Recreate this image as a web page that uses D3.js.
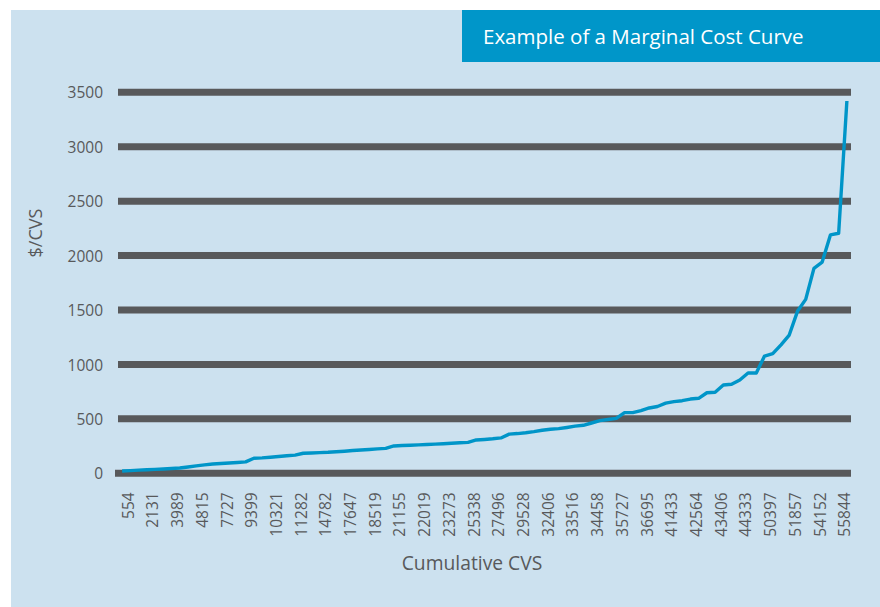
<!DOCTYPE html>
<html>
<head>
<style>
    body { margin: 0; background: #fff; }
    .label { font-family: "Open Sans", sans-serif; fill: #58595b; }
    .curve { fill: none; stroke: #0095c8; stroke-width: 3.4; stroke-linejoin: round; }
    .grid { stroke: #58595b; stroke-width: 7; }
</style>
</head>

<body>
    <svg id="container" width="880" height="607">
        <rect x="11" y="10" width="869" height="597" fill="#cce1ef"></rect>
        <g id="body"></g>
    </svg>
</body>
<script src="https://d3js.org/d3.v7.min.js"></script>

<script>
    // x tick labels, one every third point
    const tickLabels = ["554", "2131", "3989", "4815", "7727", "9399", "10321", "11282", "14782", "17647",
        "18519", "21155", "22019", "23273", "25338", "27496", "29528", "32406", "33516", "34458",
        "35727", "36695", "41433", "42564", "43406", "44333", "50397", "51857", "54152", "55844"];
    // $/CVS for each point
    const costs = [21, 25, 29, 32, 36, 40, 44, 49, 58, 68,
        77, 85, 90, 94, 99, 105, 138, 142, 148, 154,
        161, 167, 184, 187, 190, 193, 198, 203, 209, 214,
        219, 224, 229, 251, 255, 258, 261, 265, 268, 272,
        276, 280, 284, 306, 311, 317, 325, 360, 365, 373,
        383, 395, 405, 410, 421, 433, 441, 462, 484, 494,
        505, 557, 557, 576, 600, 614, 644, 658, 667, 682,
        689, 740, 744, 811, 818, 857, 921, 921, 1077, 1099,
        1180, 1270, 1488, 1598, 1883, 1940, 2190, 2205, 3420];
    const yTicks = [0, 500, 1000, 1500, 2000, 2500, 3000, 3500];

    let svg = d3.select("#container");
    let body = d3.select("#body");

    let plotLeft = 118, plotRight = 851, plotTop = 92.3, plotBottom = 473.3;

    let xScale = d3.scaleBand()
        .domain(d3.range(costs.length))
        .range([plotLeft, plotRight])
        .padding(0);
    let yScale = d3.scaleLinear()
        .domain([0, 3500])
        .range([plotBottom, plotTop]);

    // thick grid bars
    body.selectAll(".grid")
        .data(yTicks)
        .enter()
        .append("line")
        .attr("class", "grid")
        .attr("x1", (d) => d === 0 ? plotLeft - 3 : plotLeft)
        .attr("x2", plotRight)
        .attr("y1", (d) => yScale(d))
        .attr("y2", (d) => yScale(d));

    // y axis labels
    let yAxis = body.append("g")
        .attr("transform", "translate(" + plotLeft + ",0)")
        .call(d3.axisLeft(yScale).tickValues(yTicks).tickFormat(d3.format("d")).tickSize(0).tickPadding(15));
    yAxis.select(".domain").remove();
    yAxis.selectAll("text")
        .attr("class", "label")
        .style("font-size", "15.5px")
        .attr("dy", "0.36em");

    // x axis labels (rotated)
    let xAxis = body.append("g")
        .attr("transform", "translate(0," + plotBottom + ")")
        .call(d3.axisBottom(xScale)
            .tickValues(d3.range(0, costs.length, 3))
            .tickFormat((i) => tickLabels[i / 3])
            .tickSize(0));
    xAxis.select(".domain").remove();
    xAxis.selectAll("text")
        .attr("class", "label")
        .style("font-size", "15.5px")
        .style("text-anchor", "end")
        .attr("transform", "rotate(-90)")
        .attr("x", -19)
        .attr("y", 6)
        .attr("dy", "0.36em");

    // the curve
    let line = d3.line()
        .x((d, i) => xScale(i) + xScale.bandwidth() / 2)
        .y((d) => yScale(d));
    body.append("path")
        .datum(costs)
        .attr("class", "curve")
        .attr("d", line);

    // axis titles
    body.append("text")
        .attr("class", "label")
        .attr("transform", "translate(42,233) rotate(-90)")
        .style("text-anchor", "middle")
        .style("font-size", "18px")
        .text("$/CVS");
    body.append("text")
        .attr("class", "label")
        .attr("x", 472)
        .attr("y", 570)
        .style("text-anchor", "middle")
        .style("font-size", "19.3px")
        .text("Cumulative CVS");

    // title box
    svg.append("rect")
        .attr("x", 462)
        .attr("y", 10)
        .attr("width", 418)
        .attr("height", 52)
        .attr("fill", "#0096c9");
    svg.append("text")
        .attr("x", 483)
        .attr("y", 44)
        .style("font-family", "'Open Sans', sans-serif")
        .style("font-size", "20.5px")
        .style("fill", "#fff")
        .text("Example of a Marginal Cost Curve");
</script>
</html>
